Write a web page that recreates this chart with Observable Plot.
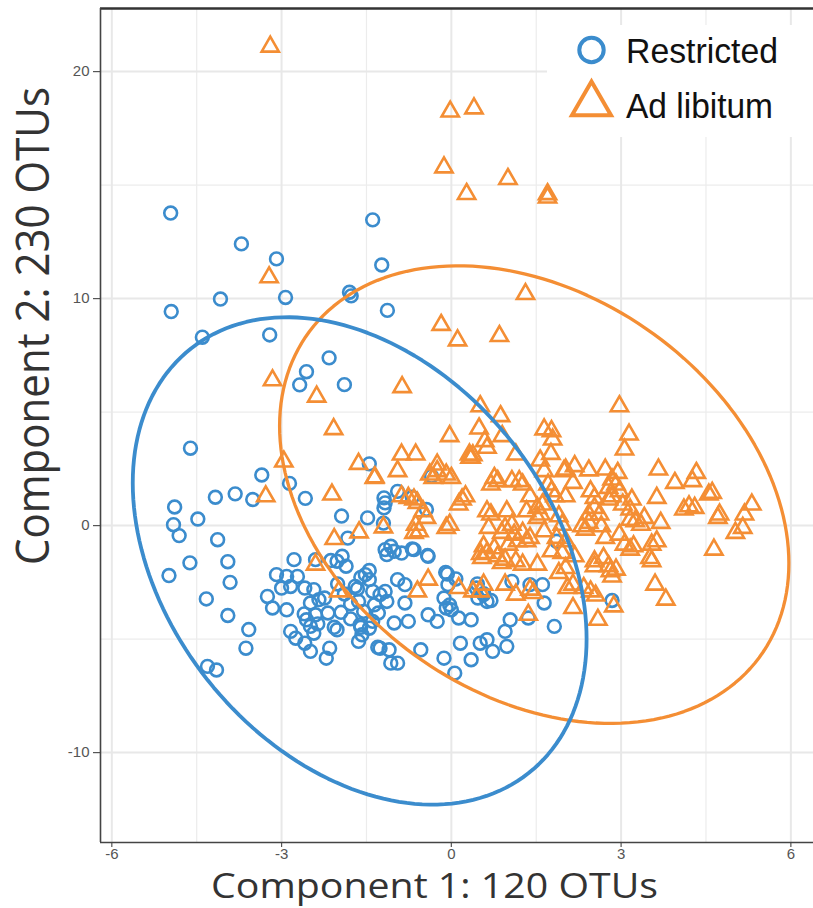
<!DOCTYPE html>
<html><head><meta charset="utf-8">
<script src="https://cdn.jsdelivr.net/npm/d3@7"></script>
<script src="https://cdn.jsdelivr.net/npm/@observablehq/plot@0.6"></script>
<style>
body{margin:0;background:#fff;}
#chart{position:relative;width:813px;height:908px;overflow:hidden;}
</style></head><body><div id="chart"></div>
<script>
// ---- data ----
const groups = ["Restricted", "Ad libitum"];
const colors = ["#3b8ccd", "#f48e34"];
const xTicks = [-6, -3, 0, 3, 6];
const yTicks = [20, 10, 0, -10];
const xMinor = [-4.5, -1.5, 1.5, 4.5];
const yMinor = [15, 5, -5];
const xTitle = "Component 1: 120 OTUs";
const yTitle = "Component 2: 230 OTUs";

const restricted = [
[-4.96,13.77],[-1.39,13.47],[-3.71,12.41],[-3.09,11.75],[-1.23,11.48],[-4.08,9.98],[-2.93,10.05],[-1.80,10.28],[-1.77,10.12],[-4.95,9.43],[-1.13,9.48],[-4.40,8.30],[-3.21,8.40],[-2.16,7.39],[-2.56,6.78],[-2.68,6.20],[-1.89,6.21],[-4.61,3.41],[-3.35,2.23],[-2.86,1.86],[-1.45,2.72],
[-2.58,1.20],[-4.17,1.25],[-3.82,1.40],[-3.51,1.15],[-4.89,0.82],[-4.48,0.29],[-4.91,0.04],[-4.81,-0.44],[-4.13,-0.62],[-1.94,0.42],[-1.48,0.34],[-1.20,0.11],[-1.19,1.22],[-1.17,1.0],[-1.19,0.78],[-0.95,1.51],[-0.35,2.18],[-0.44,0.71],[-1.83,-0.55],[-0.69,1.25],
[-4.62,-1.64],[-4.99,-2.2],[-3.95,-1.59],[-3.91,-2.5],[-4.33,-3.23],[-3.95,-3.96],[-3.58,-4.58],[-3.63,-5.4],[-4.31,-6.2],[-4.15,-6.36],
[-2.78,-1.5],[-2.40,-1.5],[-2.02,-1.57],[-1.93,-1.35],[-1.86,-1.79],[-3.09,-2.16],[-2.91,-2.24],[-2.72,-2.24],[-3.0,-2.75],[-2.84,-2.68],[-3.25,-3.12],[-3.16,-3.63],[-2.91,-3.71],[-2.59,-2.75],[-2.43,-2.82],[-2.49,-3.41],[-2.34,-3.26],[-2.56,-4.15],[-2.40,-3.93],[-2.18,-3.85],[-2.24,-3.19],[-2.84,-4.66],[-2.75,-4.96],[-2.59,-5.18],[-2.49,-4.44],[-2.43,-4.74],[-2.49,-5.54],[-2.21,-5.84],[-2.15,-5.4],[-2.02,-4.59],[-1.70,-2.68],[-1.64,-3.34],[-1.55,-3.78],[-1.61,-4.37],[-1.52,-2.16],[-1.45,-2.38],[-1.39,-2.9],[-1.26,-3.04],[-1.17,-2.9],[-1.14,-3.34],[-1.36,-3.49],[-1.39,-4.22],[-1.29,-3.85],[-1.45,-4.52],[-1.64,-5.1],[-1.58,-4.81],[-1.26,-5.4],[-1.10,-5.47],[-1.07,-6.06],[-0.95,-6.06],[-1.01,-4.29],[-0.95,-2.38],[-0.82,-2.6],[-0.82,-3.41],[-0.76,-4.22],[-0.54,-5.47],[-0.41,-3.93],[-0.25,-4.22],[-0.13,-3.19],[-0.03,-3.49],[0.0,-3.71],[-0.09,-3.63],[-0.06,-2.6],[0.13,-4.07],[0.35,-4.15],[-0.13,-5.84],[0.06,-6.5],[0.16,-5.18],[0.35,-5.91],[0.51,-5.18],[0.63,-5.03],[0.73,-5.54],[0.95,-4.66],[0.98,-5.32],[1.04,-4.15],[0.63,-3.34],[0.57,-3.04],[0.47,-3.19],[1.07,-2.46],[1.39,-2.6],[1.61,-2.6],[1.64,-3.41],[1.36,-4.07],[1.82,-4.44],[0.44,-2.75],[2.84,-3.3],
[-1.17,-1.06],[-1.07,-0.91],[-1.01,-1.13],[-0.88,-1.21],[-1.14,-1.28],[-0.66,-1.06],[-0.41,-1.35],[1.86,-0.69],
[-2.6,-3.89],[-2.36,-4.33],[-2.07,-4.48],[-1.95,-3.82],[-1.78,-3.45],[-1.66,-2.79],[-1.60,-2.28],[-1.45,-1.98],[-1.60,-4.48],[-1.30,-5.36],[-0.10,-2.06],[-2.13,-1.54],[-1.89,-3.01],[-2.01,-2.57],[-1.78,-4.11],[-0.69,-1.03],[-0.42,-1.32],
[-0.07,-2.13],[0.08,-2.35],[0.46,-2.57],[0.57,-3.0],[0.70,-3.3]
];

const adLibitum = [
[-3.20,21.1],[-0.02,18.24],[0.40,18.38],[-0.13,15.78],[1.0,15.27],[0.27,14.61],[1.70,14.6],[1.70,14.45],[-3.22,10.94],[1.31,10.2],[-0.18,8.84],[0.11,8.16],[0.85,8.35],[-3.16,6.4],[-2.38,5.68],[-0.87,6.1],[-2.08,4.25],[-2.96,2.82],[-1.64,2.72],[-1.35,2.13],[-3.28,1.29],[-2.11,1.37],[-2.07,-0.59],[-1.63,-0.3],[-1.20,-0.08],
[2.97,5.26],[0.51,5.26],[0.87,4.82],[0.49,4.28],[1.64,4.24],[1.77,4.16],[1.79,3.79],[3.14,4.01],[3.06,3.35],[-0.03,3.94],[0.59,3.72],[0.63,3.43],[0.90,3.94],[0.33,2.99],[0.38,3.1],[1.14,3.13],[1.57,2.87],[1.76,3.16],[1.64,2.40],[2.02,2.47],[2.18,2.62],[2.43,2.43],[2.72,2.47],[2.84,2.03],[2.94,2.32],[2.91,1.81],[2.78,1.66],[3.66,2.47],[4.33,2.32],[3.95,1.88],[4.26,1.96],[3.63,1.22],[4.55,1.37],[4.61,1.44],[5.31,0.93],[5.18,0.49],[4.11,0.71],[4.20,0.85],[4.30,0.78],[4.74,0.49],[4.71,0.34],[5.15,-0.10],[5.02,-0.32],[4.64,-1.06],[3.70,0.12],[3.63,-0.69],[3.51,-1.43],[3.54,-1.57],[3.60,-2.6],[3.79,-3.26],[3.16,0.26],[3.25,0.19],[3.35,0.04],[3.41,0.34],[3.16,0.71],[3.03,0.93],[3.19,1.15],[2.78,1.15],[2.84,1.29],[2.97,1.51],[2.53,0.78],[2.43,0.49],[2.62,0.49],[2.31,-0.03],[2.37,-0.18],[2.43,0.12],[2.72,-0.54],[2.65,-0.03],[2.97,-0.40],[3.06,-0.84],[3.16,-1.06],[3.22,-0.91],[2.78,-1.79],[2.81,-2.01],[2.91,-1.94],[2.84,-2.24],[2.69,-1.43],[2.53,-1.79],[2.87,-3.56],[2.59,-4.15],[2.15,-3.63],[2.46,-2.9],[2.34,-2.75],[2.05,-2.75],[2.15,-2.6],[1.90,-2.09],[2.02,-1.87],[2.18,-1.35],[1.96,-1.21],[1.77,-1.13],[2.15,1.88],[2.02,1.29],[1.77,1.51],[1.71,1.81],[1.83,1.29],[1.61,0.93],[1.52,0.34],[1.58,0.49],[1.64,-0.25],[1.39,-0.54],[1.26,-0.32],[1.33,-0.69],[1.11,-0.40],[1.17,-0.69],[1.01,-0.84],[0.89,-0.32],[0.95,-0.1],[1.07,0.04],[0.98,0.63],[1.26,1.81],[1.20,1.96],[1.07,1.96],[1.33,0.63],[0.70,0.49],[0.66,-0.1],[0.82,1.96],[0.76,2.10],[0.70,1.81],[0.57,-0.91],[0.63,-1.21],[0.54,-1.43],[0.82,-1.35],[0.89,-1.65],[0.95,-1.5],[1.14,-1.57],[1.26,-1.72],[1.52,-1.72],[1.86,-0.54],[2.02,-0.69],[1.96,0.04],[1.90,0.41],[1.52,0.78],[1.39,1.29],[2.46,1.51],[2.53,1.22],[1.99,2.40],[0.95,-2.6],[1.14,-3.04],[1.39,-2.82],[1.45,-2.97],[1.36,-3.93],[0.57,-2.6],[0.51,-2.9],[0.38,-2.9],[0.13,-2.75],[-0.41,-2.38],[-0.60,-2.9],[-0.03,0.04],[-0.09,-0.1],[-0.63,0.04],[-0.57,-0.25],[-0.66,-0.32],[-0.44,0.34],[-0.50,0.63],[-0.76,1.22],[-0.66,1.15],[-0.60,1.0],[-0.88,1.29],[0.13,0.93],[0.19,1.15],[0.25,1.29],[0.0,2.10],[-0.09,2.25],[-0.25,2.40],[-0.32,2.10],[-0.38,2.25],[-0.25,2.69],[-0.63,3.13],[-0.88,3.13],[-0.95,2.40],[0.32,3.13],[0.35,2.99],[-1.36,2.10],[-2.40,-1.72],[-1.99,-2.9],[0.63,0.63],[2.53,-1.57],[3.54,-0.84],[2.55,-3.08],[0.76,-1.0],[0.52,-1.25]
];

// 95% ellipse parameters per group (centre, half-extent in x and y, correlation)
const ellipseParams = [
  {group: "Restricted", cx: -1.62, cy: -1.555, ax: 4.01, ay: 10.735, rho: -0.32},
  {group: "Ad libitum", cx: 1.465, cy: 1.365, ax: 4.50, ay: 10.08, rho: -0.30}
];

// ---- build tables ----
const points = [
  ...restricted.map(([x, y]) => ({x, y, group: "Restricted"})),
  ...adLibitum.map(([x, y]) => ({x, y, group: "Ad libitum"}))
];
const ellipsePath = ellipseParams.flatMap(e => d3.range(0, 361, 2).map(deg => {
  const t = deg * Math.PI / 180;
  return {group: e.group,
    x: e.cx + e.ax * Math.cos(t),
    y: e.cy + e.ay * (e.rho * Math.cos(t) + Math.sqrt(1 - e.rho * e.rho) * Math.sin(t))};
}));

const xDomain = [-6.2, 6.4];
const yDomain = [-13.96, 22.78];
const fmt = d => String(d);

const plot = Plot.plot({
  width: 813, height: 908,
  marginLeft: 100, marginRight: 0, marginTop: 8, marginBottom: 66,
  x: {domain: xDomain, label: null},
  y: {domain: yDomain, label: null},
  color: {domain: groups, range: colors},
  symbol: {domain: groups, range: ["circle", "triangle"]},
  style: {fontFamily: "'Liberation Sans', Arial, sans-serif", background: "#fff", overflow: "visible"},
  marks: [
    Plot.gridX(xMinor, {stroke: "#ececec", strokeOpacity: 1, strokeWidth: 1.2}),
    Plot.gridY(yMinor, {stroke: "#ececec", strokeOpacity: 1, strokeWidth: 1.2}),
    Plot.gridX(xTicks, {stroke: "#e8e8e8", strokeOpacity: 1, strokeWidth: 2}),
    Plot.gridY(yTicks, {stroke: "#e8e8e8", strokeOpacity: 1, strokeWidth: 2}),
    Plot.axisX({ticks: xTicks, tickFormat: fmt, label: null, tickSize: 5, tickPadding: 1, fontSize: 15, color: "#555", strokeWidth: 1.2}),
    Plot.axisY({ticks: yTicks, tickFormat: fmt, label: null, tickSize: 7, tickPadding: 4, fontSize: 15, color: "#555", strokeWidth: 1.2}),
    Plot.dot(points.filter(d => d.group === "Restricted"), {x: "x", y: "y", symbol: "group", stroke: "group", fill: "none", r: 6.4, strokeWidth: 2.6}),
    Plot.dot(points.filter(d => d.group === "Ad libitum"), {x: "x", y: "y", symbol: "group", stroke: "group", fill: "none", r: 6.4, strokeWidth: 2.6}),
    Plot.line(ellipsePath.filter(d => d.group === "Ad libitum"), {x: "x", y: "y", z: "group", stroke: "group", strokeWidth: 3.3, curve: "linear"}),
    Plot.line(ellipsePath.filter(d => d.group === "Restricted"), {x: "x", y: "y", z: "group", stroke: "group", strokeWidth: 3.8, curve: "linear"}),
    Plot.ruleY([yDomain[1]], {stroke: "#333", strokeWidth: 2.4}),
    Plot.ruleY([yDomain[0]], {stroke: "#444", strokeWidth: 1.6}),
    Plot.ruleX([xDomain[0]], {stroke: "#444", strokeWidth: 1.6})
  ]
});

document.getElementById("chart").appendChild(plot);

// ---- titles and legend ----
const svg = d3.select(plot);
svg.append("text")
  .attr("x", 434.5).attr("y", 898)
  .attr("text-anchor", "middle")
  .attr("font-family", "'Open Sans', sans-serif")
  .attr("font-size", 34).attr("fill", "#333")
  .attr("textLength", 447).attr("lengthAdjust", "spacingAndGlyphs")
  .text(xTitle);
svg.append("text")
  .attr("transform", "translate(49,326) rotate(-90)")
  .attr("text-anchor", "middle")
  .attr("font-family", "'Open Sans', sans-serif")
  .attr("font-size", 46).attr("fill", "#333")
  .attr("textLength", 478).attr("lengthAdjust", "spacingAndGlyphs")
  .text(yTitle);

const legend = svg.append("g");
legend.append("rect").attr("x", 547).attr("y", 25).attr("width", 280).attr("height", 112).attr("fill", "#fff");
const sym = [d3.symbolCircle, d3.symbolTriangle];
const sizes = [Math.PI * 12.2 * 12.2, Math.PI * 14.5 * 14.5];
const rows = [{cy: 50, ty: 63, len: 152}, {cy: 104, ty: 118, len: 147}];
groups.forEach((g, i) => {
  legend.append("path")
    .attr("d", d3.symbol(sym[i], sizes[i])())
    .attr("transform", `translate(591.5,${rows[i].cy})`)
    .attr("fill", "none").attr("stroke", colors[i]).attr("stroke-width", 4);
  legend.append("text")
    .attr("x", 626).attr("y", rows[i].ty)
    .attr("text-anchor", "start")
    .attr("font-family", "'Liberation Sans', Arial, sans-serif")
    .attr("font-size", 35).attr("fill", "#111")
    .attr("textLength", rows[i].len).attr("lengthAdjust", "spacingAndGlyphs")
    .text(g);
});
</script></body></html>
